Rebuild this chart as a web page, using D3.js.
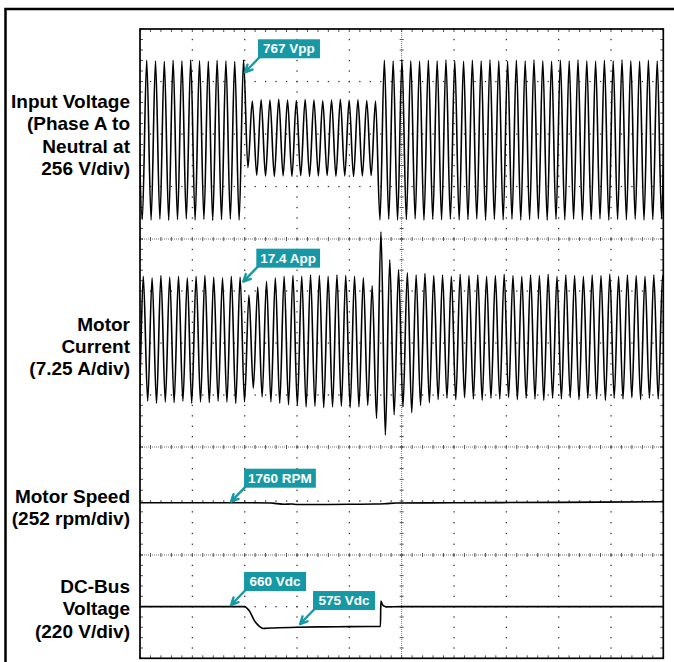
<!DOCTYPE html>
<html>
<head>
<meta charset="utf-8">
<script src="https://cdn.jsdelivr.net/npm/d3@7"></script>
<style>
  body { margin: 0; background: #fff; }
  svg { display: block; font-family: 'Liberation Sans', Arial, Helvetica, sans-serif; }
  .label { font-size: 19px; font-weight: bold; text-anchor: end; fill: #000; }
  .callout text { font-size: 13.5px; font-weight: bold; fill: #fff; text-anchor: middle; }
  .trace { fill: none; stroke: #000; stroke-width: 1.6; stroke-linejoin: round; }
  .dot { fill: #333; }
  .tickline { stroke: #777; stroke-width: 1; stroke-dasharray: 1,1; }
  .tick { stroke: #555; stroke-width: 1; }
</style>
</head>
<body>
<div id="chart"></div>
<script>
//data (times in ms, 100 ms/div)
const cyclePeriod = 16.82      // one mains cycle as read on screen
const voltStart = 12.8         // time of peak k=0
const currStart = 6.3

// input voltage, V : peak and following trough of cycle k = -1..59
const voltPeaks = [
  385, 388, 385, 382, 388, 385, 390, 386, 383, 388, 385, 382, 390,
  190, 196, 194, 198, 195, 192, 197, 195, 191, 195, 198, 193, 196, 192, 190,
  388, 385, 390, 386, 384, 388, 385, 390, 386, 383, 388, 385, 390, 386, 384, 388, 385,
  390, 386, 383, 388, 385, 390, 386, 384, 388, 385, 390, 386, 383, 388, 385, 388
]
const voltTroughs = [
  -388, -390, -386, -391, -388, -385, -390, -387, -392, -388, -386, -390,
  -135,
  -172, -176, -178, -175, -177, -174, -178, -176, -173, -177, -175, -178, -176, -174,
  -390,
  -386, -390, -388, -385, -391, -387, -389, -386, -390, -388, -385, -391, -387, -389, -386, -390, -388,
  -385, -391, -387, -389, -386, -390, -388, -385, -391, -387, -389, -386, -390, -388, -385, -390
]
// motor current, A
const currPeaks = [
  8.7, 8.8, 8.6, 8.9, 8.7, 8.8, 8.6, 8.8, 8.9, 8.7, 8.6, 8.8, 8.7,
  6.2, 7.3, 8.1, 8.6, 8.8, 8.9, 8.8, 9.0, 8.9, 8.8, 9.0, 8.9, 8.8, 8.6, 7.5,
  15.0, 11.1, 9.7, 9.3, 9.0, 9.2, 8.9, 9.0, 8.8, 9.1, 8.9, 9.0, 8.8, 8.9, 9.1, 8.9, 8.8,
  9.0, 8.9, 9.1, 8.8, 9.0, 8.9, 8.8, 9.0, 8.9, 9.1, 8.8, 9.0, 8.9, 8.8, 9.0, 8.9
]
const currTroughs = [
  -8.7, -8.6, -8.9, -8.7, -8.8, -8.6, -8.9, -8.7, -8.8, -8.6, -8.7, -8.9, -8.7,
  -6.8, -8.0, -8.7, -8.9, -9.1, -9.2, -9.4, -9.3, -9.5, -9.4, -9.3, -9.5, -9.4, -9.2, -11.0,
  -13.3, -10.5, -9.4, -10.2, -9.2, -8.8, -8.4, -8.2, -8.4, -8.1, -8.3, -8.5, -8.2, -8.3, -8.1, -8.4, -8.2,
  -8.3, -8.5, -8.2, -8.3, -8.1, -8.4, -8.2, -8.3, -8.5, -8.2, -8.3, -8.1, -8.4, -8.2, -8.3, -8.4
]
// motor speed, rpm
const speedPoints = [
  [0, 1761], [100, 1761], [200, 1761], [250, 1760], [262, 1757], [275, 1754], [290, 1755],
  [300, 1753], [350, 1753], [400, 1754], [450, 1755], [470, 1757], [490, 1760],
  [600, 1761], [800, 1763], [1000, 1766]
]
// dc bus, V
const busPoints = [
  [0, 660], [100, 660], [200.6, 660], [205, 652], [210.2, 638], [215, 616], [219.8, 596],
  [225, 583], [229.3, 574], [235.6, 567], [242, 568], [250, 569], [300, 572], [350, 574],
  [400, 575], [459.5, 576], [460.2, 684], [462, 676], [464, 666], [467, 662], [470, 659],
  [500, 660], [700, 660], [1000, 660]
]
const callouts = [
  { text: '767 Vpp', ch: 'volt', t: 200.6, v: 330 },
  { text: '17.4 App', ch: 'curr', t: 197.4, v: 8.06 },
  { text: '1760 RPM', ch: 'speed', t: 174, v: 1766 },
  { text: '660 Vdc', ch: 'bus', t: 174, v: 667 },
  { text: '575 Vdc', ch: 'bus', t: 305.8, v: 586 }
]
const labelLines = {
  volt: ['Input Voltage', '(Phase A to', 'Neutral at', '256 V/div)'],
  curr: ['Motor', 'Current', '(7.25 A/div)'],
  speed: ['Motor Speed', '(252 rpm/div)'],
  bus: ['DC-Bus', 'Voltage', '(220 V/div)']
}

//layout
const W = 674, H = 662
const plot = { left: 140, right: 663.3, top: 29, bottom: 658.3 }
const teal = '#1799a5'
const sections = [
  { key: 'volt', top: 29, bottom: 239, divs: 4, perDiv: 256, mid: 29, labelY: 108 },
  { key: 'curr', top: 239, bottom: 447, divs: 4, perDiv: 7.25, mid: -0.49, labelY: 330.5 },
  { key: 'speed', top: 447, bottom: 555, divs: 2, perDiv: 252, mid: 1769.3, labelY: 502.5 },
  { key: 'bus', top: 555, bottom: 658.3, divs: 2, perDiv: 220, mid: 660, labelY: 592.7 }
]
const ch = {}
sections.forEach(s => {
  s.y = d3.scaleLinear()
    .domain([s.mid - s.divs / 2 * s.perDiv, s.mid + s.divs / 2 * s.perDiv])
    .range([s.bottom, s.top])
  ch[s.key] = s
})
const x = d3.scaleLinear().domain([0, 1000]).range([plot.left, plot.right])

const svg = d3.select('#chart').append('svg').attr('width', W).attr('height', H)
svg.append('rect').attr('width', W).attr('height', H).attr('fill', '#fff')

//outer frame
svg.append('path')
  .attr('d', 'M5.5,662V9H674')
  .attr('fill', 'none').attr('stroke', '#000').attr('stroke-width', 2.5)

//graticule
const grid = svg.append('g')
const minorT = d3.range(0, 1000.001, 20)
const majorT = d3.range(100, 1000, 100).filter(t => t !== 500)
const dots = []
const minorYs = []
sections.forEach(s => {
  const step = (s.bottom - s.top) / (s.divs * 5)
  const ys = d3.range(0, s.divs * 5 + 1).map(i => s.top + i * step)
  ys.forEach(y => minorYs.push(y))
  majorT.forEach(t => ys.forEach(y => dots.push([x(t), y])))
  d3.range(1, s.divs).forEach(i => {
    const y = s.top + i * (s.bottom - s.top) / s.divs
    minorT.forEach(t => dots.push([x(t), y]))
  })
})
grid.selectAll('rect.dot').data(dots).join('rect')
  .attr('class', 'dot')
  .attr('x', d => d[0] - 0.6).attr('y', d => d[1] - 0.6)
  .attr('width', 1.3).attr('height', 1.3)

//section boundary lines with ticks
const bounds = [239, 447, 555]
grid.selectAll('line.hb').data(bounds).join('line')
  .attr('class', 'tickline hb')
  .attr('x1', plot.left).attr('x2', plot.right).attr('y1', d => d).attr('y2', d => d)
bounds.forEach(y => {
  grid.selectAll(null).data(minorT).join('line')
    .attr('class', 'tick')
    .attr('x1', d => x(d)).attr('x2', d => x(d))
    .attr('y1', y - 2).attr('y2', y + 2)
})
//centre vertical with ticks
grid.append('line').attr('class', 'tickline')
  .attr('x1', x(500)).attr('x2', x(500)).attr('y1', plot.top).attr('y2', plot.bottom)
grid.selectAll(null).data(minorYs).join('line')
  .attr('class', 'tick')
  .attr('x1', x(500) - 2).attr('x2', x(500) + 2).attr('y1', d => d).attr('y2', d => d)
//edge ticks
grid.selectAll(null).data(minorT).join('line').attr('class', 'tick')
  .attr('x1', d => x(d)).attr('x2', d => x(d)).attr('y1', plot.top).attr('y2', plot.top + 3)
grid.selectAll(null).data(minorT).join('line').attr('class', 'tick')
  .attr('x1', d => x(d)).attr('x2', d => x(d)).attr('y1', plot.bottom).attr('y2', plot.bottom - 3)
grid.selectAll(null).data(minorYs).join('line').attr('class', 'tick')
  .attr('x1', plot.left).attr('x2', plot.left + 3).attr('y1', d => d).attr('y2', d => d)
grid.selectAll(null).data(minorYs).join('line').attr('class', 'tick')
  .attr('x1', plot.right).attr('x2', plot.right - 3).attr('y1', d => d).attr('y2', d => d)

//traces
svg.append('clipPath').attr('id', 'clip').append('rect')
  .attr('x', plot.left).attr('y', plot.top)
  .attr('width', plot.right - plot.left).attr('height', plot.bottom - plot.top)
const traces = svg.append('g').attr('clip-path', 'url(#clip)')

function extremes(start, peaks, troughs) {
  let pts = []
  peaks.forEach((p, i) => {
    let k = i - 1
    pts.push([start + k * cyclePeriod, p])
    pts.push([start + (k + 0.5) * cyclePeriod, troughs[i]])
  })
  return pts
}
const lineFor = (s, curve) => d3.line()
  .x(d => x(d[0])).y(d => s.y(d[1])).curve(curve)

traces.append('path').attr('class', 'trace')
  .attr('d', lineFor(ch.volt, d3.curveMonotoneX)(extremes(voltStart, voltPeaks, voltTroughs)))
traces.append('path').attr('class', 'trace')
  .attr('d', lineFor(ch.curr, d3.curveMonotoneX)(extremes(currStart, currPeaks, currTroughs)))
traces.append('path').attr('class', 'trace').attr('stroke-width', 1.5)
  .attr('d', lineFor(ch.speed, d3.curveMonotoneX)(speedPoints))
traces.append('path').attr('class', 'trace').attr('stroke-width', 1.7)
  .attr('d', lineFor(ch.bus, d3.curveMonotoneX)(busPoints))

//plot frame
svg.append('rect')
  .attr('x', plot.left).attr('y', plot.top)
  .attr('width', plot.right - plot.left).attr('height', plot.bottom - plot.top)
  .attr('fill', 'none').attr('stroke', '#000').attr('stroke-width', 1.7)

//channel labels
sections.forEach(s => {
  svg.append('text').attr('class', 'label')
    .selectAll('tspan').data(labelLines[s.key]).join('tspan')
    .attr('x', 130).attr('y', (d, i) => s.labelY + i * 22.4)
    .text(d => d)
})

//callouts
const boxH = 19
svg.selectAll('g.callout').data(callouts).join('g').attr('class', 'callout')
  .each(function (d) {
    const g = d3.select(this)
    const tx = x(d.t), ty = ch[d.ch].y(d.v)
    const label = g.append('text').text(d.text)
    const boxW = Math.max(62, label.node().getComputedTextLength() + 8)
    const bx = tx + 13, by = ty - 14 - boxH
    const sx = bx + 1.5, sy = by + boxH - 1
    const a = Math.atan2(sy - ty, sx - tx), len = 8, spread = 0.45
    const p1 = [tx + len * Math.cos(a - spread), ty + len * Math.sin(a - spread)]
    const p2 = [tx + len * Math.cos(a + spread), ty + len * Math.sin(a + spread)]
    g.insert('path', 'text')
      .attr('d', `M${sx},${sy}L${tx},${ty}M${p1}L${tx},${ty}L${p2}`)
      .attr('fill', 'none').attr('stroke', teal).attr('stroke-width', 2.4)
      .attr('stroke-linecap', 'round').attr('stroke-linejoin', 'round')
    g.insert('rect', 'text').attr('x', bx).attr('y', by).attr('width', boxW).attr('height', boxH)
      .attr('fill', teal)
    label.attr('x', bx + boxW / 2).attr('y', by + 14.2)
  })
</script>
</body>
</html>
